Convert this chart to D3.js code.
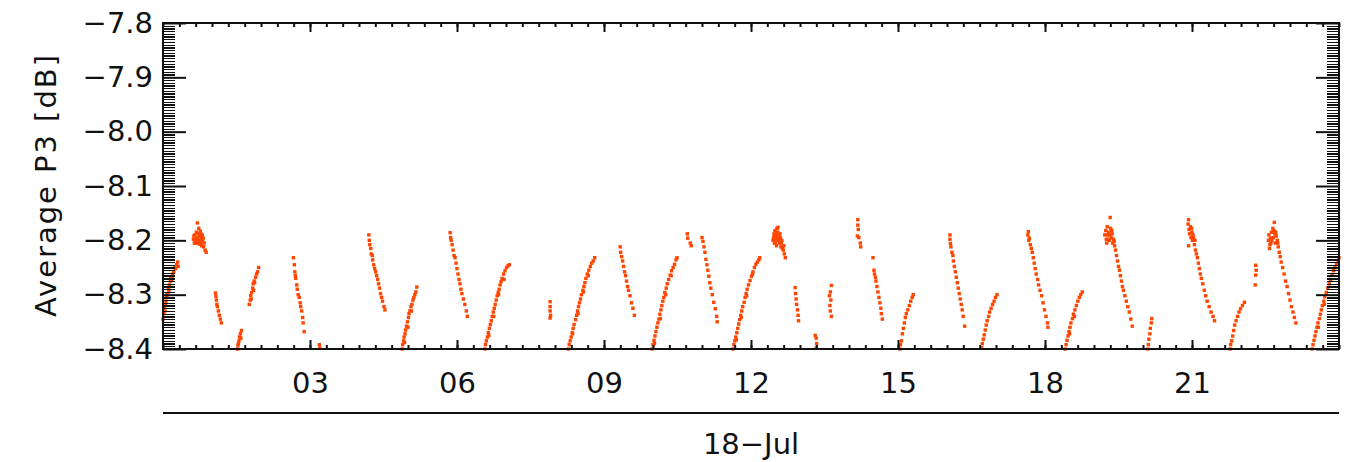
<!DOCTYPE html>
<html><head><meta charset="utf-8">
<script src="https://cdn.jsdelivr.net/npm/d3@7"></script>
<style>
html,body{margin:0;padding:0;background:#fff;}
svg{display:block;}
text{font-family:"DejaVu Sans",sans-serif;fill:#111;}
</style></head>
<body>
<svg id="chart" width="1351" height="462"></svg>
<script>
// ---- data (hour of day, average P3 dB) ----
const yTicks = [-7.8, -7.9, -8.0, -8.1, -8.2, -8.3, -8.4];
const xTicks = [3, 6, 9, 12, 15, 18, 21];
const xTickLabels = ["03", "06", "09", "12", "15", "18", "21"];
const dateLabel = "18\u2212Jul";
const yLabel = "Average P3 [dB]";

const pass01 = [[0.00,-8.345],[0.02,-8.335],[0.03,-8.322],[0.05,-8.318],[0.07,-8.305],[0.08,-8.298],[0.10,-8.300],[0.11,-8.288],[0.13,-8.282],[0.15,-8.275],[0.16,-8.268],[0.18,-8.272],[0.20,-8.262],[0.22,-8.258],[0.24,-8.250],[0.26,-8.252],[0.28,-8.245],[0.30,-8.240],[0.31,-8.248],[0.04,-8.330],[0.12,-8.292],[0.06,-8.312],[0.19,-8.266]];
const pass02 = [[0.62,-8.198],[0.64,-8.205],[0.65,-8.190],[0.67,-8.200],[0.68,-8.185],[0.69,-8.195],[0.70,-8.168],[0.71,-8.205],[0.72,-8.188],[0.73,-8.178],[0.74,-8.200],[0.75,-8.192],[0.76,-8.183],[0.77,-8.205],[0.78,-8.195],[0.79,-8.210],[0.80,-8.190],[0.81,-8.200],[0.83,-8.212],[0.84,-8.205],[0.86,-8.218],[0.88,-8.222],[0.66,-8.205],[0.74,-8.207],[0.63,-8.192],[0.70,-8.198],[0.77,-8.188],[0.82,-8.196]];
const pass03 = [[1.07,-8.297],[1.08,-8.303],[1.09,-8.310],[1.10,-8.318],[1.11,-8.322],[1.13,-8.330],[1.15,-8.338],[1.17,-8.345],[1.19,-8.352]];
const pass04 = [[1.52,-8.400],[1.53,-8.393],[1.55,-8.385],[1.56,-8.378],[1.58,-8.372],[1.60,-8.366],[1.54,-8.390],[1.59,-8.380]];
const pass05 = [[1.76,-8.318],[1.78,-8.310],[1.79,-8.302],[1.81,-8.296],[1.83,-8.288],[1.84,-8.280],[1.86,-8.275],[1.87,-8.278],[1.89,-8.268],[1.91,-8.262],[1.93,-8.258],[1.95,-8.250],[1.80,-8.308],[1.85,-8.292]];
const pass06 = [[2.66,-8.232],[2.68,-8.245],[2.69,-8.258],[2.70,-8.265],[2.71,-8.270],[2.73,-8.282],[2.74,-8.290],[2.76,-8.300],[2.78,-8.305],[2.80,-8.315],[2.81,-8.322],[2.83,-8.330],[2.85,-8.342],[2.86,-8.352],[2.88,-8.368]];
const pass07 = [[3.19,-8.392],[3.20,-8.398]];
const pass08 = [[4.20,-8.190],[4.21,-8.200],[4.22,-8.208],[4.24,-8.215],[4.25,-8.225],[4.27,-8.228],[4.28,-8.236],[4.30,-8.245],[4.32,-8.252],[4.34,-8.258],[4.36,-8.265],[4.38,-8.272],[4.40,-8.280],[4.42,-8.288],[4.44,-8.298],[4.46,-8.305],[4.48,-8.312],[4.51,-8.322],[4.53,-8.328]];
const pass09 = [[4.88,-8.400],[4.89,-8.392],[4.91,-8.385],[4.92,-8.378],[4.94,-8.372],[4.95,-8.365],[4.97,-8.358],[4.99,-8.350],[5.01,-8.342],[5.02,-8.335],[5.04,-8.330],[5.06,-8.322],[5.08,-8.318],[5.10,-8.310],[5.12,-8.305],[5.14,-8.300],[5.16,-8.295],[5.18,-8.286],[4.93,-8.388],[5.00,-8.360],[5.07,-8.330]];
const pass10 = [[5.86,-8.186],[5.87,-8.195],[5.88,-8.200],[5.90,-8.208],[5.92,-8.218],[5.94,-8.228],[5.96,-8.232],[5.98,-8.242],[6.00,-8.252],[6.02,-8.262],[6.04,-8.272],[6.06,-8.280],[6.08,-8.290],[6.10,-8.298],[6.13,-8.308],[6.16,-8.318],[6.19,-8.330],[6.21,-8.340]];
const pass11 = [[6.57,-8.400],[6.58,-8.392],[6.60,-8.385],[6.62,-8.378],[6.64,-8.370],[6.66,-8.362],[6.68,-8.355],[6.70,-8.348],[6.72,-8.340],[6.74,-8.332],[6.76,-8.325],[6.78,-8.318],[6.80,-8.310],[6.82,-8.302],[6.84,-8.296],[6.86,-8.290],[6.88,-8.282],[6.90,-8.276],[6.92,-8.270],[6.95,-8.262],[6.98,-8.256],[7.01,-8.250],[7.04,-8.247],[7.07,-8.245],[6.65,-8.375],[6.75,-8.340],[6.85,-8.300],[6.96,-8.272]];
const pass12 = [[7.90,-8.313],[7.90,-8.322],[7.90,-8.330],[7.91,-8.338],[7.90,-8.343]];
const pass13 = [[8.27,-8.400],[8.29,-8.392],[8.31,-8.385],[8.33,-8.378],[8.35,-8.370],[8.37,-8.362],[8.39,-8.355],[8.42,-8.346],[8.44,-8.338],[8.46,-8.330],[8.48,-8.322],[8.50,-8.315],[8.52,-8.308],[8.54,-8.300],[8.57,-8.292],[8.59,-8.285],[8.61,-8.278],[8.63,-8.270],[8.66,-8.262],[8.69,-8.255],[8.72,-8.248],[8.75,-8.242],[8.78,-8.238],[8.81,-8.232],[8.36,-8.372],[8.47,-8.335],[8.58,-8.295],[8.68,-8.265]];
const pass14 = [[9.33,-8.212],[9.34,-8.222],[9.36,-8.230],[9.38,-8.238],[9.40,-8.248],[9.42,-8.258],[9.44,-8.265],[9.46,-8.275],[9.48,-8.285],[9.50,-8.292],[9.53,-8.302],[9.56,-8.315],[9.59,-8.325],[9.62,-8.338]];
const pass15 = [[9.98,-8.400],[10.00,-8.392],[10.02,-8.384],[10.04,-8.376],[10.06,-8.368],[10.08,-8.360],[10.10,-8.352],[10.12,-8.345],[10.14,-8.336],[10.16,-8.328],[10.18,-8.320],[10.20,-8.312],[10.22,-8.305],[10.24,-8.296],[10.27,-8.288],[10.29,-8.280],[10.32,-8.272],[10.35,-8.264],[10.38,-8.256],[10.41,-8.250],[10.44,-8.244],[10.47,-8.236],[10.49,-8.232],[10.03,-8.390],[10.15,-8.344],[10.26,-8.300],[10.37,-8.265]];
const pass16 = [[10.70,-8.188],[10.71,-8.196],[10.76,-8.205],[10.78,-8.210]];
const pass17 = [[11.00,-8.195],[11.02,-8.202],[11.04,-8.212],[11.06,-8.222],[11.08,-8.235],[11.10,-8.245],[11.12,-8.255],[11.14,-8.266],[11.16,-8.278],[11.18,-8.288],[11.21,-8.300],[11.24,-8.314],[11.27,-8.326],[11.30,-8.340],[11.31,-8.350]];
const pass18 = [[11.63,-8.400],[11.65,-8.392],[11.67,-8.385],[11.69,-8.378],[11.71,-8.370],[11.73,-8.362],[11.75,-8.354],[11.77,-8.346],[11.79,-8.338],[11.81,-8.330],[11.83,-8.322],[11.86,-8.314],[11.88,-8.305],[11.90,-8.298],[11.92,-8.290],[11.95,-8.282],[11.98,-8.274],[12.01,-8.266],[12.04,-8.258],[12.07,-8.250],[12.10,-8.244],[12.13,-8.240],[12.16,-8.236],[12.18,-8.232],[11.70,-8.383],[11.80,-8.342],[11.91,-8.302],[12.03,-8.262]];
const pass19 = [[12.46,-8.195],[12.47,-8.188],[12.48,-8.205],[12.49,-8.182],[12.50,-8.198],[12.51,-8.190],[12.52,-8.210],[12.53,-8.178],[12.54,-8.195],[12.55,-8.185],[12.56,-8.200],[12.57,-8.192],[12.58,-8.205],[12.60,-8.195],[12.61,-8.212],[12.63,-8.200],[12.64,-8.215],[12.66,-8.218],[12.68,-8.225],[12.70,-8.232],[12.50,-8.205],[12.55,-8.176],[12.45,-8.200],[12.48,-8.192],[12.52,-8.186],[12.59,-8.188],[12.62,-8.205],[12.67,-8.210]];
const pass20 = [[12.90,-8.287],[12.91,-8.298],[12.92,-8.308],[12.93,-8.318],[12.95,-8.328],[12.96,-8.338],[12.97,-8.348]];
const pass21 = [[13.31,-8.375],[13.33,-8.380],[13.34,-8.390],[13.33,-8.398]];
const pass22 = [[13.64,-8.283],[13.62,-8.295],[13.60,-8.302],[13.63,-8.310],[13.61,-8.320],[13.62,-8.330],[13.64,-8.340]];
const pass23 = [[14.18,-8.162],[14.18,-8.172],[14.19,-8.180],[14.17,-8.192],[14.20,-8.195],[14.23,-8.205],[14.24,-8.212]];
const pass24 = [[14.49,-8.232],[14.51,-8.255],[14.52,-8.262],[14.54,-8.268],[14.55,-8.275],[14.57,-8.285],[14.59,-8.295],[14.61,-8.305],[14.63,-8.315],[14.65,-8.325],[14.66,-8.335],[14.68,-8.345]];
const pass25 = [[15.04,-8.400],[15.05,-8.392],[15.07,-8.385],[15.09,-8.372],[15.11,-8.362],[15.13,-8.352],[15.15,-8.342],[15.17,-8.335],[15.20,-8.328],[15.23,-8.320],[15.26,-8.312],[15.29,-8.305],[15.31,-8.300]];
const pass26 = [[16.06,-8.190],[16.06,-8.198],[16.07,-8.206],[16.08,-8.212],[16.10,-8.222],[16.12,-8.228],[16.13,-8.238],[16.15,-8.248],[16.17,-8.258],[16.19,-8.268],[16.21,-8.278],[16.23,-8.288],[16.25,-8.298],[16.27,-8.308],[16.29,-8.318],[16.31,-8.328],[16.33,-8.340],[16.36,-8.358]];
const pass27 = [[16.71,-8.398],[16.72,-8.390],[16.74,-8.382],[16.76,-8.374],[16.78,-8.365],[16.80,-8.356],[16.82,-8.348],[16.85,-8.340],[16.87,-8.332],[16.90,-8.325],[16.93,-8.318],[16.96,-8.312],[16.99,-8.305],[17.02,-8.300]];
const pass28 = [[17.65,-8.190],[17.66,-8.184],[17.67,-8.200],[17.68,-8.196],[17.70,-8.208],[17.72,-8.215],[17.74,-8.222],[17.76,-8.232],[17.78,-8.242],[17.80,-8.252],[17.82,-8.262],[17.85,-8.272],[17.87,-8.282],[17.90,-8.292],[17.93,-8.302],[17.96,-8.315],[17.99,-8.328],[18.02,-8.340],[18.05,-8.352],[18.06,-8.360]];
const pass29 = [[18.41,-8.400],[18.43,-8.392],[18.45,-8.384],[18.47,-8.376],[18.49,-8.368],[18.51,-8.360],[18.53,-8.352],[18.56,-8.344],[18.58,-8.336],[18.61,-8.328],[18.64,-8.320],[18.67,-8.312],[18.70,-8.305],[18.73,-8.300],[18.76,-8.295],[18.50,-8.372],[18.60,-8.340]];
const pass30 = [[19.22,-8.190],[19.24,-8.182],[19.25,-8.198],[19.27,-8.175],[19.28,-8.190],[19.30,-8.185],[19.31,-8.200],[19.33,-8.158],[19.34,-8.178],[19.35,-8.195],[19.37,-8.188],[19.38,-8.205],[19.40,-8.198],[19.42,-8.210],[19.44,-8.218],[19.46,-8.228],[19.48,-8.238],[19.50,-8.248],[19.52,-8.255],[19.54,-8.265],[19.56,-8.275],[19.58,-8.285],[19.60,-8.292],[19.63,-8.302],[19.66,-8.312],[19.69,-8.322],[19.72,-8.332],[19.75,-8.345],[19.78,-8.358],[19.26,-8.205],[19.29,-8.198],[19.32,-8.190],[19.36,-8.182],[19.41,-8.202]];
const pass31 = [[20.10,-8.400],[20.11,-8.392],[20.12,-8.382],[20.14,-8.372],[20.15,-8.362],[20.17,-8.352],[20.18,-8.344]];
const pass32 = [[20.92,-8.170],[20.93,-8.162],[20.94,-8.180],[20.95,-8.188],[20.97,-8.175],[20.98,-8.195],[21.00,-8.185],[21.01,-8.200],[21.03,-8.195],[21.05,-8.208],[21.07,-8.218],[21.09,-8.225],[21.11,-8.232],[21.13,-8.242],[21.15,-8.252],[21.17,-8.262],[21.19,-8.270],[21.22,-8.280],[21.25,-8.292],[21.28,-8.302],[21.31,-8.312],[21.35,-8.322],[21.39,-8.332],[21.43,-8.340],[21.46,-8.348],[20.93,-8.210],[20.99,-8.178],[21.02,-8.190],[21.06,-8.200]];
const pass33 = [[21.78,-8.400],[21.79,-8.392],[21.81,-8.385],[21.83,-8.376],[21.85,-8.366],[21.87,-8.356],[21.90,-8.348],[21.93,-8.340],[21.96,-8.332],[21.99,-8.326],[22.03,-8.320],[22.07,-8.314]];
const pass34 = [[22.30,-8.246],[22.31,-8.255],[22.30,-8.264],[22.29,-8.282]];
const pass35 = [[22.56,-8.200],[22.57,-8.190],[22.59,-8.208],[22.60,-8.196],[22.62,-8.185],[22.63,-8.200],[22.65,-8.178],[22.66,-8.195],[22.68,-8.167],[22.69,-8.188],[22.70,-8.205],[22.72,-8.192],[22.74,-8.200],[22.76,-8.212],[22.78,-8.222],[22.80,-8.230],[22.82,-8.240],[22.85,-8.250],[22.88,-8.262],[22.91,-8.275],[22.94,-8.285],[22.97,-8.298],[23.00,-8.310],[23.03,-8.322],[23.06,-8.332],[23.09,-8.342],[23.12,-8.352],[22.58,-8.215],[22.61,-8.205],[22.67,-8.182],[22.71,-8.185],[22.75,-8.205]];
const pass36 = [[23.45,-8.400],[23.47,-8.392],[23.49,-8.384],[23.51,-8.376],[23.53,-8.368],[23.55,-8.360],[23.57,-8.352],[23.60,-8.344],[23.62,-8.336],[23.64,-8.328],[23.66,-8.320],[23.69,-8.312],[23.71,-8.304],[23.74,-8.296],[23.77,-8.288],[23.80,-8.280],[23.83,-8.272],[23.86,-8.264],[23.89,-8.256],[23.92,-8.250],[23.95,-8.244],[23.98,-8.238],[24.00,-8.232],[23.58,-8.360],[23.70,-8.318]];

const passes = [pass01,pass02,pass03,pass04,pass05,pass06,pass07,pass08,pass09,pass10,pass11,pass12,
  pass13,pass14,pass15,pass16,pass17,pass18,pass19,pass20,pass21,pass22,pass23,pass24,
  pass25,pass26,pass27,pass28,pass29,pass30,pass31,pass32,pass33,pass34,pass35,pass36];

// ---- drawing ----
const svg = d3.select("#chart");
const L = 163, R = 1339, T = 23, B = 349;
const x = d3.scaleLinear().domain([0, 24]).range([L, R]);
const y = d3.scaleLinear().domain([-8.4, -7.8]).range([B, T]);
const fmt = d3.format(".1f");

const yMinor = d3.range(0, 121).map(i => -8.4 + i * 0.005);
const xMinor = d3.range(0, 73).map(i => i / 3);

// points
svg.append("g").attr("fill", "#ff4500")
  .selectAll("rect").data(passes.flat()).join("rect")
  .attr("x", d => x(d[0]) - 1.7).attr("y", d => y(d[1]) - 1.7)
  .attr("width", 3.4).attr("height", 3.4);

function styleAxis(g, w) {
  g.select(".domain").remove();
  g.selectAll("line").attr("stroke", "#111").attr("stroke-width", w || 2);
  g.selectAll("text").style("font-family", "DejaVu Sans, sans-serif").style("font-size", "29px").attr("fill", "#111");
}
function minorStyle(g) {
  styleAxis(g, 1.3);
  g.selectAll("line").attr("shape-rendering", "crispEdges");
}

// left axis minor + major
svg.append("g").attr("transform", `translate(${L},0)`)
  .call(d3.axisLeft(y).tickValues(yMinor).tickSize(-12).tickFormat(""))
  .call(minorStyle);
svg.append("g").attr("transform", `translate(${L},0)`)
  .call(d3.axisLeft(y).tickValues(yTicks).tickSize(-23).tickPadding(10).tickFormat(fmt))
  .call(styleAxis);
// right axis
svg.append("g").attr("transform", `translate(${R},0)`)
  .call(d3.axisRight(y).tickValues(yMinor).tickSize(-12).tickFormat(""))
  .call(minorStyle);
svg.append("g").attr("transform", `translate(${R},0)`)
  .call(d3.axisRight(y).tickValues(yTicks).tickSize(-23).tickFormat(""))
  .call(styleAxis);
// bottom axis
svg.append("g").attr("transform", `translate(0,${B})`)
  .call(d3.axisBottom(x).tickValues(xMinor).tickSize(-4).tickFormat(""))
  .call(styleAxis);
svg.append("g").attr("transform", `translate(0,${B})`)
  .call(d3.axisBottom(x).tickValues(xTicks).tickSize(-9).tickPadding(23)
    .tickFormat((d, i) => xTickLabels[i]))
  .call(styleAxis);
// top axis
svg.append("g").attr("transform", `translate(0,${T})`)
  .call(d3.axisTop(x).tickValues(xMinor).tickSize(-4).tickFormat(""))
  .call(styleAxis);
svg.append("g").attr("transform", `translate(0,${T})`)
  .call(d3.axisTop(x).tickValues(xTicks).tickSize(-9).tickFormat(""))
  .call(styleAxis);

// frame
svg.append("rect").attr("x", L).attr("y", T).attr("width", R - L).attr("height", B - T)
  .attr("fill", "none").attr("stroke", "#111").attr("stroke-width", 2);

// secondary date axis
svg.append("line").attr("x1", L).attr("x2", R).attr("y1", 413).attr("y2", 413)
  .attr("stroke", "#111").attr("stroke-width", 2);
svg.append("text").attr("x", x(12)).attr("y", 454).attr("text-anchor", "middle")
  .style("font-size", "29px").text(dateLabel);

// y label
svg.append("text").attr("transform", "translate(56,186) rotate(-90)")
  .attr("text-anchor", "middle").style("font-size", "29px")
  .attr("textLength", 262).attr("lengthAdjust", "spacing")
  .text(yLabel);
</script>
</body></html>
